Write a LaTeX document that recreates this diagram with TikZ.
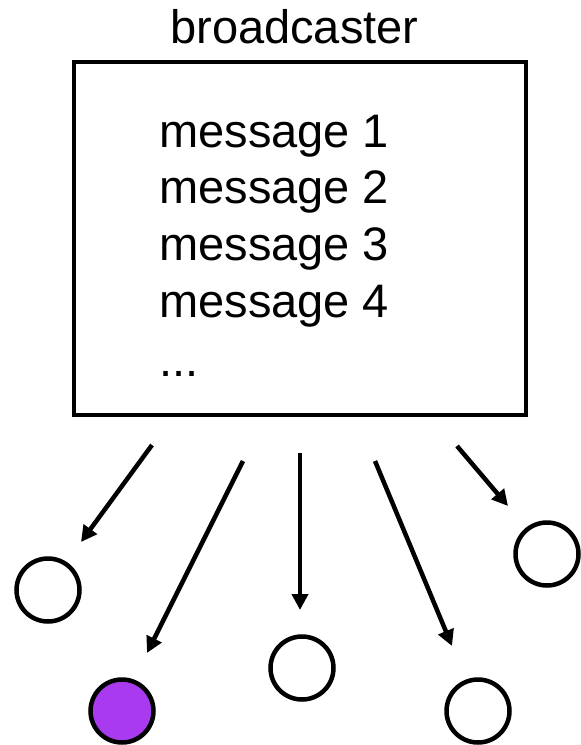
\documentclass[tikz,border=0pt]{standalone}
\usepackage{fontspec}
\setmainfont{Liberation Sans}
\usetikzlibrary{arrows.meta}
\definecolor{rxpurple}{RGB}{169,58,239}

\begin{document}
\begin{tikzpicture}[x=1pt,y=-1pt,line width=4.5pt,
  msg/.style={anchor=base west,inner sep=0pt,font=\fontsize{47}{56}\selectfont},
  rcv/.style={draw,circle,minimum size=63pt,inner sep=0pt},
  bcast/.style={-{Triangle[length=16pt,width=16pt]}}]
\useasboundingbox (0,0) rectangle (581,745);

%broadcaster box
\node[draw,line width=4pt,minimum width=452pt,minimum height=353pt,inner sep=0pt] (box) at (300,238.5) {};
\node[msg] (title) at (168,43) {broadcaster};

%messages
\node[msg] (m1) at (157,147) {message 1};
\node[msg] (m2) at (157,203) {message 2};
\node[msg] (m3) at (157,260) {message 3};
\node[msg] (m4) at (157,317) {message 4};
\node[msg] (more) at (157,376) {...};

%receivers
\node[rcv] (rx1) at (48,590) {};
\node[rcv,fill=rxpurple] (rx2) at (122,711) {};
\node[rcv] (rx3) at (302,668) {};
\node[rcv] (rx4) at (478,711) {};
\node[rcv] (rx5) at (547,554) {};

%arrow ends
\coordinate (s1) at (152,445); \coordinate (t1) at (81,542);
\coordinate (s2) at (243,461); \coordinate (t2) at (147,653);
\coordinate (s3) at (300,453); \coordinate (t3) at (300,610);
\coordinate (s4) at (375,461); \coordinate (t4) at (452,646);
\coordinate (s5) at (457,446); \coordinate (t5) at (508,506);

\draw[bcast] (s1) -- (t1);
\draw[bcast] (s2) -- (t2);
\draw[bcast] (s3) -- (t3);
\draw[bcast] (s4) -- (t4);
\draw[bcast] (s5) -- (t5);

\end{tikzpicture}
\end{document}
